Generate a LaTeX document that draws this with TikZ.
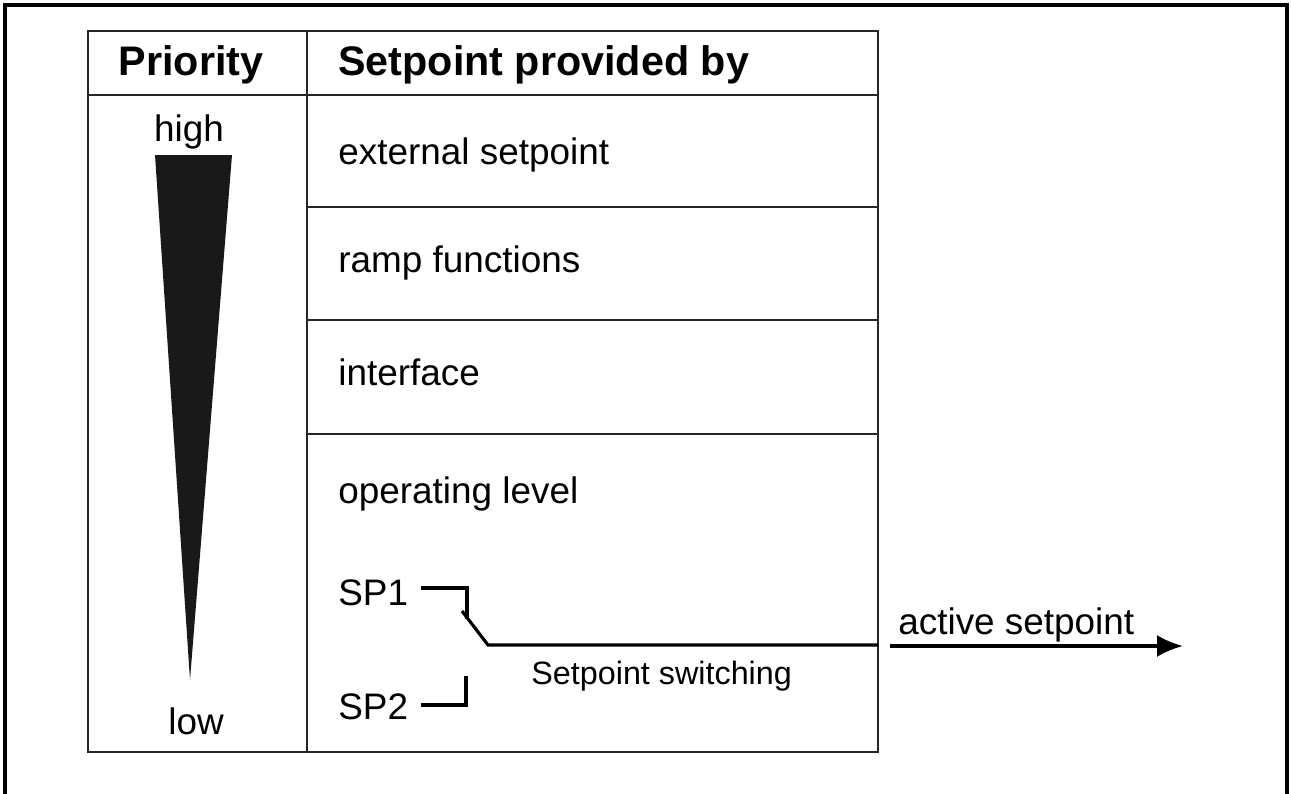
\documentclass[tikz,border=0pt]{standalone}
\usepackage{fontspec}
\setmainfont{Liberation Sans}
\usetikzlibrary{arrows.meta}
\begin{document}
\begin{tikzpicture}[x=0.02cm, y=-0.02cm, >={Latex[length=0.52cm, width=0.44cm]},
		txt/.style={font=\fontsize{21}{25}\selectfont, inner sep=0pt},
		small/.style={font=\fontsize{18.4}{22}\selectfont, inner sep=0pt},
		head/.style={font=\fontsize{23.5}{28}\selectfont\bfseries, inner sep=0pt},
		rule/.style={line width=1.2pt, black!85},
		wire/.style={line width=1.8pt}]
	\useasboundingbox (0,0) rectangle (1291,794);
	\draw[line width=2pt] (5,794) -- (5,5) -- (1287,5) -- (1287,794);
	\draw[rule] (88,31) rectangle (878,752);
	\draw[rule] (307,31) -- (307,752);
	\draw[rule] (88,95) -- (878,95);
	\foreach \y in {207,320,434} \draw[rule] (307,\y) -- (878,\y);
	\node[head, anchor=base] (prio) at (191,76) {Priority};
	\node[head, anchor=base west] (src) at (338,76) {Setpoint provided by};
	\node[txt, anchor=base] (high) at (189,141) {high};
	\node[txt, anchor=base] (low) at (196,734) {low};
	\fill[black!90] (155,155) -- (232,155) -- (190,680) -- cycle;
	\foreach \y/\t [count=\i] in {%
			164/external setpoint,%
			272/ramp functions,%
			385/interface,%
			503/operating level%
		} {
			\node[txt, anchor=base west] (src\i) at (338,\y) {\t};
		}
	\node[txt, anchor=base west] (sp1) at (338,605) {SP1};
	\node[txt, anchor=base west] (sp2) at (338,719) {SP2};
	\coordinate (a1) at (421,588);
	\coordinate (k1) at (467,588);
	\coordinate (b1) at (462,611);
	\coordinate (pv) at (488,645);
	\coordinate (out) at (878,645);
	\coordinate (a2) at (421,705);
	\coordinate (k2) at (466,705);
	\draw[wire] (a1) -- (k1) -- ++(0,31);
	\draw[wire] (b1) -- (pv) -- (out);
	\draw[wire] (a2) -- (k2) -- ++(0,-29);
	\node[small, anchor=base west] (sw) at (531,684) {Setpoint switching};
	\coordinate (ar) at (890,646);
	\coordinate (tip) at (1183,646);
	\draw[wire, ->] (ar) -- (tip);
	\node[txt, anchor=base west] (act) at (898,634) {active setpoint};
\end{tikzpicture}
\end{document}
